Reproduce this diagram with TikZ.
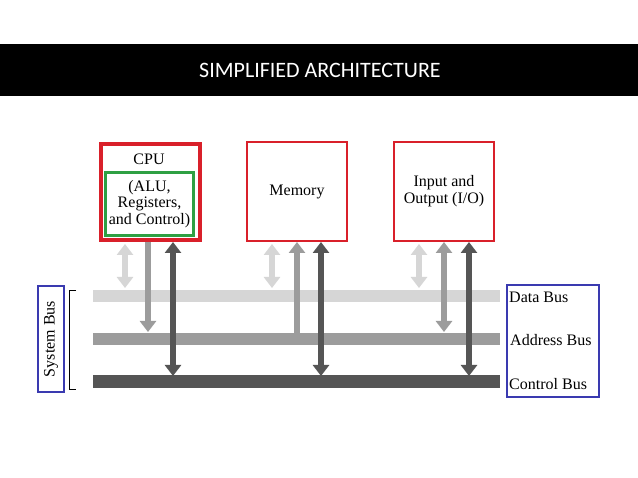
\documentclass[tikz,border=0pt]{standalone}
\usepackage{fontspec}
\setmainfont{Liberation Serif}
\newfontfamily\hdr{Carlito}
\usetikzlibrary{arrows.meta}
\definecolor{lg}{HTML}{D6D6D6}
\definecolor{mg}{HTML}{9C9C9C}
\definecolor{dg}{HTML}{555555}
\definecolor{rd}{HTML}{D9202A}
\definecolor{gr}{HTML}{2EA043}
\definecolor{bl}{HTML}{3A3AB0}
\begin{document}
\begin{tikzpicture}[x=1pt,y=-1pt,
  unit/.style={draw=rd,line width=2pt,minimum width=100pt,minimum height=99pt,inner sep=0pt,align=center,font=\fontsize{16}{17}\selectfont},
  bus/.style={line width=12pt},
  arr/.style={line width=6pt,-{Triangle[width=16pt,length=11pt]}},
  darr/.style={line width=6pt,{Triangle[width=16pt,length=11pt]}-{Triangle[width=16pt,length=11pt]}},
  lbl/.style={anchor=west,font=\fontsize{16}{17}\selectfont,inner sep=0pt}]
\useasboundingbox (0,0) rectangle (638,478);
\fill[white] (0,0) rectangle (638,478);
\fill[black] (0,44) rectangle (638,96);
\node[text=white,font=\hdr\fontsize{22}{24}\selectfont] (title) at (320,70) {SIMPLIFIED ARCHITECTURE};
% buses
\coordinate (d1) at (93,296); \coordinate (d2) at (500,296);
\coordinate (a1) at (93,339); \coordinate (a2) at (500,339);
\coordinate (c1) at (93,382); \coordinate (c2) at (500,382);
\draw[bus,lg] (d1) -- (d2);
\draw[bus,mg] (a1) -- (a2);
\draw[bus,dg,line width=13pt] (c1) -- (c2);
% units
\node[unit,line width=4pt,minimum width=99pt,minimum height=96pt,anchor=north west] (cpu) at (99,142) {};
\node[font=\fontsize{16}{17}\selectfont] (cpul) at (149,159) {CPU};
\node[draw=gr,line width=2.5pt,minimum width=88pt,minimum height=63pt,inner sep=0pt,align=center,font=\fontsize{16}{16.5}\selectfont] (alu) at (149.5,204) {(ALU,\\Registers,\\and Control)};
\node[unit,anchor=north west] (mem) at (246,141) {Memory};
\node[unit,anchor=north west] (io) at (393,141) {Input and\\Output (I/O)};
% arrows
\draw[darr,lg] (125,244) -- (125,288);
\draw[arr,mg] (148,242) -- (148,332);
\draw[darr,dg] (173,242) -- (173,376);
\draw[darr,lg] (272,244) -- (272,288);
\draw[arr,mg] (297,333) -- (297,242);
\draw[darr,dg] (321,242) -- (321,376);
\draw[darr,lg] (419,244) -- (419,288);
\draw[darr,mg] (444,242) -- (444,332);
\draw[darr,dg] (469,242) -- (469,376);
% labels
\node[draw=bl,line width=2pt,minimum width=92pt,minimum height=112pt,anchor=north west] (lbox) at (506,284) {};
\node[lbl] (dl) at (509,297) {Data Bus};
\node[lbl] (al) at (510,340) {Address Bus};
\node[lbl] (cl) at (509,384) {Control Bus};
\node[draw=bl,line width=2pt,minimum width=26pt,minimum height=106pt,inner sep=0pt] (sb) at (51,339) {};
\node[rotate=90,font=\fontsize{16}{17}\selectfont] (sbl) at (51,339) {System Bus};
\draw[black,line width=0.8pt] (76,290) -- (69,290) -- (69,389) -- (76,389);
\end{tikzpicture}
\end{document}
